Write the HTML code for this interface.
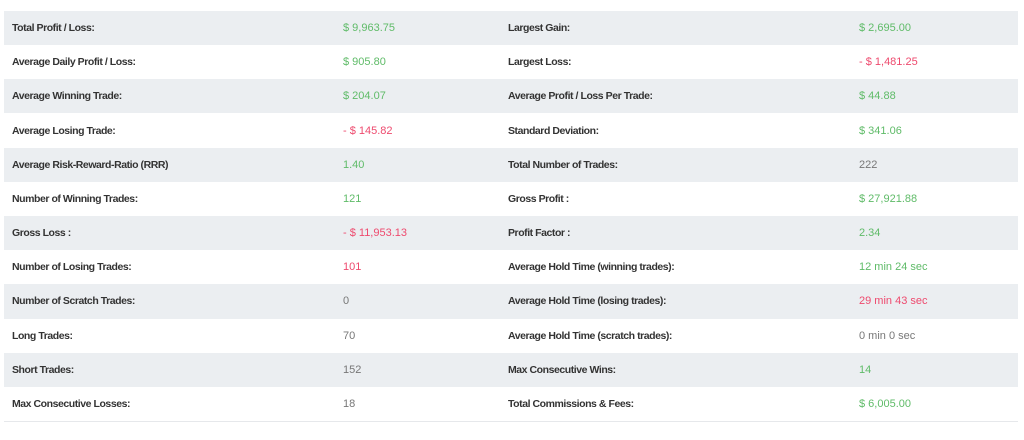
<!DOCTYPE html>
<html>
<head>
<meta charset="utf-8">
<style>
html,body{margin:0;padding:0;background:#fff;}
body{width:1024px;height:440px;position:relative;overflow:hidden;font-family:"Liberation Sans",Arial,sans-serif;}
.row{position:absolute;left:4px;width:1014px;height:34.17px;}
.g{background:#ebeef1;}
.last{border-bottom:1px solid #e6e8eb;}
.c{position:absolute;top:0;height:100%;line-height:34px;white-space:nowrap;}
.l1{left:8px;}
.v1{left:339px;}
.l2{left:504px;}
.v2{left:855px;}
.lab{font-weight:bold;font-size:10.5px;letter-spacing:-0.45px;color:#333;}
.val{font-size:11px;color:#777;}
.gr{color:#5fbb68;}
.rd{color:#ee4a6e;}
</style>
</head>
<body>
<div class="row g" style="top:11px"><span class="c l1 lab">Total Profit / Loss:</span><span class="c v1 val gr">$ 9,963.75</span><span class="c l2 lab">Largest Gain:</span><span class="c v2 val gr">$ 2,695.00</span></div>
<div class="row" style="top:45.17px"><span class="c l1 lab">Average Daily Profit / Loss:</span><span class="c v1 val gr">$ 905.80</span><span class="c l2 lab">Largest Loss:</span><span class="c v2 val rd">- $ 1,481.25</span></div>
<div class="row g" style="top:79.34px"><span class="c l1 lab">Average Winning Trade:</span><span class="c v1 val gr">$ 204.07</span><span class="c l2 lab">Average Profit / Loss Per Trade:</span><span class="c v2 val gr">$ 44.88</span></div>
<div class="row" style="top:113.51px"><span class="c l1 lab">Average Losing Trade:</span><span class="c v1 val rd">- $ 145.82</span><span class="c l2 lab">Standard Deviation:</span><span class="c v2 val gr">$ 341.06</span></div>
<div class="row g" style="top:147.68px"><span class="c l1 lab">Average Risk-Reward-Ratio (RRR)</span><span class="c v1 val gr">1.40</span><span class="c l2 lab">Total Number of Trades:</span><span class="c v2 val">222</span></div>
<div class="row" style="top:181.85px"><span class="c l1 lab">Number of Winning Trades:</span><span class="c v1 val gr">121</span><span class="c l2 lab">Gross Profit :</span><span class="c v2 val gr">$ 27,921.88</span></div>
<div class="row g" style="top:216.02px"><span class="c l1 lab">Gross Loss :</span><span class="c v1 val rd">- $ 11,953.13</span><span class="c l2 lab">Profit Factor :</span><span class="c v2 val gr">2.34</span></div>
<div class="row" style="top:250.19px"><span class="c l1 lab">Number of Losing Trades:</span><span class="c v1 val rd">101</span><span class="c l2 lab">Average Hold Time (winning trades):</span><span class="c v2 val gr">12 min 24 sec</span></div>
<div class="row g" style="top:284.36px"><span class="c l1 lab">Number of Scratch Trades:</span><span class="c v1 val">0</span><span class="c l2 lab">Average Hold Time (losing trades):</span><span class="c v2 val rd">29 min 43 sec</span></div>
<div class="row" style="top:318.53px"><span class="c l1 lab">Long Trades:</span><span class="c v1 val">70</span><span class="c l2 lab">Average Hold Time (scratch trades):</span><span class="c v2 val">0 min 0 sec</span></div>
<div class="row g" style="top:352.7px"><span class="c l1 lab">Short Trades:</span><span class="c v1 val">152</span><span class="c l2 lab">Max Consecutive Wins:</span><span class="c v2 val gr">14</span></div>
<div class="row last" style="top:386.87px"><span class="c l1 lab">Max Consecutive Losses:</span><span class="c v1 val">18</span><span class="c l2 lab">Total Commissions &amp; Fees:</span><span class="c v2 val gr">$ 6,005.00</span></div>
</body>
</html>
